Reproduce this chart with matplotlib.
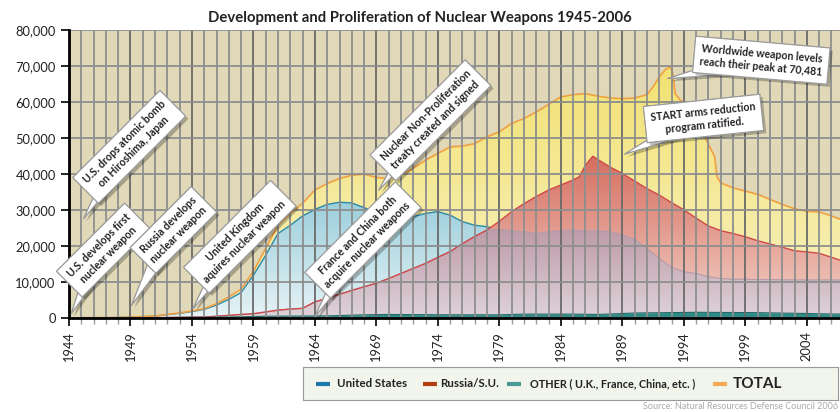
import numpy as np
import matplotlib
matplotlib.use('Agg')
import matplotlib.pyplot as plt
import matplotlib.patheffects as pe
from matplotlib.colors import LinearSegmentedColormap
from matplotlib.patches import PathPatch
from matplotlib.ticker import FuncFormatter, MultipleLocator

plt.rcParams['font.family'] = ['Lato', 'DejaVu Sans']

# --- data (number of warheads) ---
us_years = list(range(1945, 2007)) + [2006.7]
us_values = [2, 9, 13, 50, 170, 300, 440, 840, 1200, 1700,
             2300, 3500, 5100, 7000, 11800, 17400, 23400, 25700, 28300, 30100,
             31500, 32100, 31900, 30600, 29300, 28000, 27500, 28100, 29000, 29500,
             28500, 26700, 25700, 25300, 24500, 24200, 23900, 23400, 23900, 24200,
             24400, 24100, 24200, 23900, 23000, 21800, 19300, 16500, 14000, 12800,
             12300, 11400, 10900, 10700, 10700, 10600, 10600, 10550, 10500, 10500,
             10500, 10500, 10500]

russia_years = [1945, 1948, 1949, 1950, 1951, 1952, 1953, 1954, 1955, 1956,
                1957, 1958, 1959, 1960, 1961, 1962, 1963, 1964, 1965, 1966,
                1967, 1968, 1969, 1970, 1971, 1972, 1973, 1974, 1975, 1976,
                1977, 1978, 1979, 1980, 1981, 1982, 1983, 1984, 1985, 1985.5,
                1986, 1986.6, 1987, 1988, 1989, 1990, 1991, 1992, 1993, 1994,
                1995, 1996, 1997, 1998, 1999, 2000, 2001, 2002, 2003, 2004,
                2005, 2006, 2006.7]
russia_values = [0, 0, 1, 5, 25, 50, 120, 150, 200, 400,
                 650, 900, 1100, 1600, 2100, 2400, 2600, 4400, 5400, 6500,
                 7600, 8600, 9600, 10900, 12300, 13700, 15100, 16800, 18400, 20600,
                 22600, 24400, 26800, 29500, 31700, 33700, 35500, 36900, 38300, 39200,
                 42400, 44900, 44000, 41900, 40100, 38000, 35900, 34100, 32000, 30000,
                 27700, 25500, 24200, 23400, 22500, 21400, 20500, 19600, 18600, 18300,
                 17900, 16800, 16000]

other_years = [1945, 1951, 1952, 1955, 1958, 1960, 1965, 1968, 1970, 1975,
               1979, 1981, 1985, 1987, 1990, 1995, 2000, 2005, 2006.7]
other_values = [0, 0, 50, 100, 250, 400, 500, 800, 900, 800,
                800, 1000, 1000, 900, 1300, 1500, 1400, 1100, 1000]

total_years = list(range(1945, 1992)) + [1991.5, 1992, 1992.5, 1992.9, 1993.1, 1993.3,
                                         1993.7, 1994.2, 1995, 1995.7, 1996.5, 1996.7,
                                         1997, 1998, 1999, 2000, 2001, 2002, 2003,
                                         2004, 2005, 2006, 2006.7]
total_values = [2, 9, 13, 50, 171, 305, 465, 890, 1320, 1850,
                2500, 3900, 5750, 7900, 12900, 19300, 25700, 29000, 31800, 35500,
                37300, 38700, 39600, 39900, 39000, 38700, 39600, 41500, 43800, 45700,
                47500, 47700, 48400, 50300, 51700, 54000, 55400, 57200, 59300, 61400,
                62000, 62300, 61600, 61100, 60900, 61100, 62000,
                64200, 66900, 69000, 69800, 67900, 62300,
                60500, 59600, 57000, 50300, 44800, 39200,
                37500, 36100, 35200, 34300, 32900, 31500, 30300,
                29600, 29400, 28300, 27400]

fig = plt.figure(figsize=(8.4, 4.12), dpi=100)
ax = fig.add_axes([0.0821, 0.2289, 0.9179, 0.6983])
ax.set_facecolor('#e0d8b6')


def gradient_fill(x, y, c_bottom, c_top, top, z):
    poly = ax.fill_between(x, 0, y, facecolor='none', edgecolor='none', zorder=z)
    clip = PathPatch(poly.get_paths()[0], transform=ax.transData, fc='none', ec='none')
    ax.add_patch(clip)
    cmap = LinearSegmentedColormap.from_list('g', [c_bottom, c_top])
    im = ax.imshow(np.linspace(0, 1, 256).reshape(-1, 1), extent=[x[0], x[-1], 0, top],
                   origin='lower', aspect='auto', cmap=cmap, zorder=z,
                   interpolation='bilinear')
    im.set_clip_path(clip)


# overlap of US and Russia (drawn mauve)
grid_years = np.union1d(us_years, russia_years)
overlap = np.minimum(np.interp(grid_years, us_years, us_values),
                     np.interp(grid_years, russia_years, russia_values))

gradient_fill(total_years, total_values, '#f8f1c4', '#f2e272', 70000, 1.0)
gradient_fill(us_years, us_values, '#e6f3f6', '#9ccfdc', 32000, 1.1)
ax.plot(us_years, us_values, color='#2a8aa8', lw=1.0, zorder=1.15)
gradient_fill(russia_years, russia_values, '#f4d4ca', '#d56e60', 45000, 1.2)
gradient_fill(grid_years, overlap, '#dfd3da', '#bd9aa8', 25000, 1.3)
ax.plot(grid_years, overlap, color='#b49aaa', lw=0.8, zorder=1.35)
ax.plot(russia_years, russia_values, color='#d04848', lw=1.0, zorder=1.4)
ax.fill_between(other_years, 0, other_values, color='#2e8a86', lw=0, zorder=1.5)
ax.plot(other_years, other_values, color='#1d6a66', lw=0.8, zorder=1.55)
ax.plot(total_years, total_values, color='#f0a040', lw=1.2, zorder=1.6)

ax.set_xlim(1944, 2006.7)
ax.set_ylim(0, 80000)
ax.set_xticks(range(1944, 2005, 5))
ax.xaxis.set_minor_locator(MultipleLocator(1))
ax.set_yticks(range(0, 80001, 10000))
ax.yaxis.set_major_formatter(FuncFormatter(lambda v, p: f'{v:,.0f}'))
ax.set_axisbelow(False)
ax.grid(which='minor', axis='x', color='#8e8e8e', lw=1.3)
ax.grid(which='major', axis='x', color='#6a6a6a', lw=1.3)
ax.grid(which='major', axis='y', color='#8e8e8e', lw=1.3)
for s in ['top', 'right']:
    ax.spines[s].set_visible(False)
for s in ['left', 'bottom']:
    ax.spines[s].set_linewidth(2)
    ax.spines[s].set_zorder(3)
ax.tick_params(axis='y', length=6, width=1.2, labelsize=9.3, labelcolor='#222')
ax.tick_params(axis='x', which='major', length=6, width=1.2, labelsize=9.3,
               labelcolor='#222', labelrotation=90)
ax.tick_params(axis='x', which='minor', length=4, width=1, color='#999')

fig.text(0.5, 0.956, 'Development and Proliferation of Nuclear Weapons 1945-2006',
         ha='center', va='center', fontsize=10.7, fontweight='bold', color='#222')

# callouts: text, tip (year, value), box centre (year, value), rotation
callouts = [
    ('U.S. develops first\nnuclear weapon', (1944.2, 1200), (1946.8, 18800), 45),
    ('U.S. drops atomic bomb\non Hiroshima, Japan', (1945.2, 27600), (1948.9, 47500), 45),
    ('Russia develops\nnuclear weapon', (1949.1, 3500), (1952.5, 24400), 45),
    ('United Kingdom\naquires nuclear weapon', (1954.1, 2600), (1957.9, 22500), 45),
    ('France and China both\nacquire nuclear weapons', (1964.0, 300), (1967.9, 21600), 45),
    ('Nuclear Non-Proliferation\ntreaty created and signed', (1969.2, 35500), (1973.4, 54900), 45),
    ('START arms reduction\nprogram ratified.', (1989.2, 45500), (1995.6, 55400), 6),
    ('Worldwide weapon levels\nreach their peak at 70,481', (1992.7, 66500), (2000.3, 71600), -5),
]
shadow = [pe.withSimplePatchShadow(offset=(2, -2), shadow_rgbFace='k', alpha=0.25), pe.Normal()]
for txt, tip, box, rot in callouts:
    ann = ax.annotate(txt, xy=tip, xytext=box, ha='center', va='center', rotation=rot,
                      rotation_mode='anchor', fontsize=7.6, fontweight='bold', color='#222',
                      linespacing=1.3, zorder=10,
                      bbox=dict(boxstyle='square,pad=0.55', fc='white', ec='#9a9a9a', lw=0.8),
                      arrowprops=dict(arrowstyle='wedge,tail_width=2.2,shrink_factor=0.5',
                                      fc='white', ec='#9a9a9a', lw=0.8, patchA=None,
                                      shrinkA=0, shrinkB=0))
    ann.get_bbox_patch().set_path_effects(shadow)
    ann.arrow_patch.set_path_effects(shadow)

# legend box
lax = fig.add_axes([303 / 840, 12 / 412, 535 / 840, 33 / 412])
lax.set_xlim(0, 535)
lax.set_ylim(0, 33)
lax.set_xticks([])
lax.set_yticks([])
lax.set_facecolor('#f1f5ec')
for s in lax.spines.values():
    s.set_color('#999')
legend_names = ['United States', 'Russia/S.U.', 'OTHER ( U.K., France, China, etc. )', 'TOTAL']
legend_colors = ['#1a7ab0', '#b04010', '#4a9a98', '#f5a858']
legend_sizes = [8.3, 8.3, 7.8, 11]
handle_x = [13, 120, 204, 410]
text_gap = [21, 17, 23, 20]
for name, col, size, hx, gap in zip(legend_names, legend_colors, legend_sizes, handle_x, text_gap):
    lax.plot([hx, hx + 14], [16.5, 16.5], color=col, lw=3, solid_capstyle='butt')
    lax.text(hx + gap, 16.5, name, ha='left', va='center', fontweight='bold',
             fontsize=size, color='#222')

fig.text(0.998, 0.003, 'Source: Natural Resources Defense Council 2006', ha='right',
         va='bottom', fontsize=6.5, color='#aaa')

fig.savefig('out.png', dpi=100)
